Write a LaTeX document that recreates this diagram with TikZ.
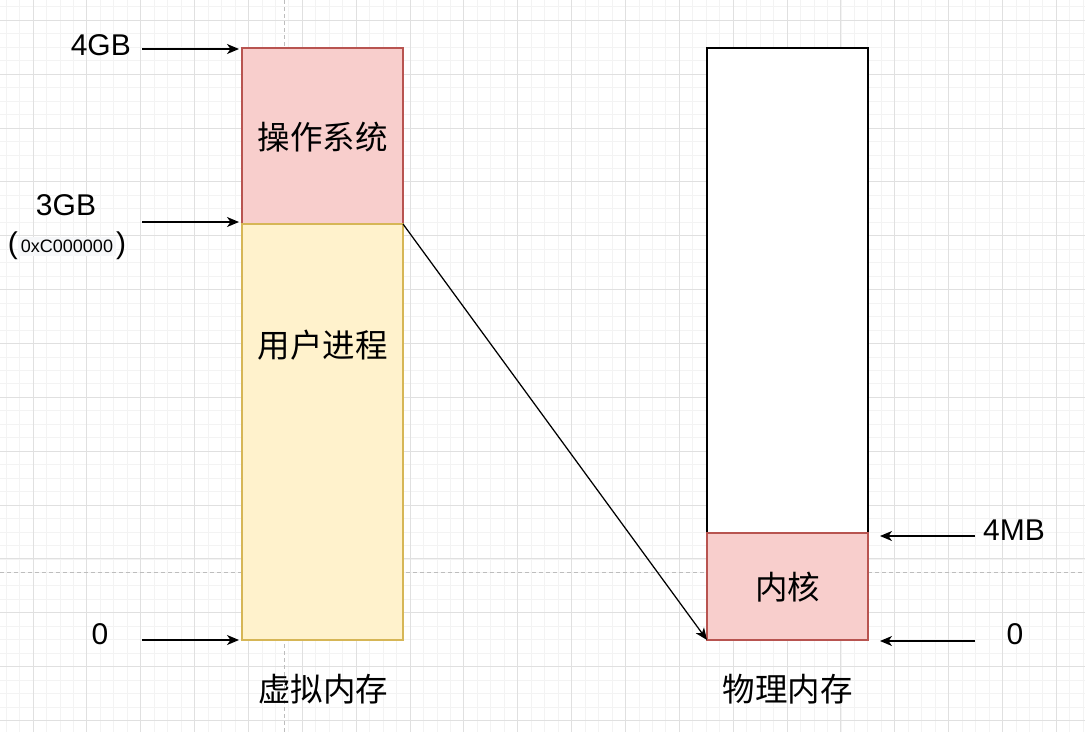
\documentclass[tikz,border=0pt]{standalone}
\usepackage{fontspec}
\setmainfont{Liberation Sans}
\newfontfamily\cjk{Noto Sans CJK SC}
\usetikzlibrary{arrows.meta}
\definecolor{osfill}{HTML}{F8CECC}
\definecolor{osline}{HTML}{B85450}
\definecolor{usfill}{HTML}{FFF2CC}
\definecolor{usline}{HTML}{D6B656}
\definecolor{gmin}{HTML}{F3F3F3}
\definecolor{gmaj}{HTML}{E0E0E0}
\definecolor{guide}{HTML}{BDBDBD}
\definecolor{codebg}{HTML}{F6F7F9}
\tikzset{
  minorgrid/.style={draw=gmin, line width=0.8pt},
  majorgrid/.style={draw=gmaj, line width=0.9pt},
  guideline/.style={draw=guide, line width=0.9pt, dash pattern=on 4pt off 3pt},
  membox/.style={rectangle, line width=1.2pt, minimum width=161pt, inner sep=0pt, outer sep=0pt},
  osbox/.style={membox, fill=osfill, draw=osline},
  userbox/.style={membox, fill=usfill, draw=usline},
  physbox/.style={membox, fill=white, draw=black},
  lat/.style={font=\fontsize{30}{34}\selectfont, inner sep=0pt},
  cjklabel/.style={font=\cjk\fontsize{32.5}{38}\selectfont, inner sep=0pt},
  arr/.style={draw=black, line width=1.25pt, -{Stealth[length=12pt,width=10pt,inset=3.5pt]}}
}
\begin{document}
\begin{tikzpicture}[x=1pt,y=-1pt]
\useasboundingbox (0,0) rectangle (1085,732);
\fill[white] (0,0) rectangle (1085,732);
% grid
\foreach \i in {-2,...,78} {
  \draw[minorgrid] ({33+13.465*\i},0) -- ({33+13.465*\i},732);
}
\foreach \i in {-1,...,53} {
  \draw[minorgrid] (0,{20.3+13.465*\i}) -- (1085,{20.3+13.465*\i});
}
\foreach \i in {0,...,19} {
  \draw[majorgrid] ({33+53.86*\i},0) -- ({33+53.86*\i},732);
}
\foreach \i in {0,...,13} {
  \draw[majorgrid] (0,{20.3+53.86*\i}) -- (1085,{20.3+53.86*\i});
}
% guides
\draw[guideline] (284,0) -- (284,732);
\draw[guideline] (0,572) -- (1085,572);

% boxes
\node[osbox, minimum height=176pt] (os) at (322.5,136) {};
\node[userbox, minimum height=416pt] (user) at (322.5,432) {};
\node[physbox, minimum height=485pt] (phys) at (787.5,290.5) {};
\node[osbox, minimum height=107pt] (kern) at (787.5,586.5) {};

\node[cjklabel] (ostxt) at (322.5,137) {操作系统};
\node[cjklabel] (usertxt) at (322.5,345) {用户进程};
\node[cjklabel] (kerntxt) at (787.5,587) {内核};
\node[cjklabel] (vmem) at (323,689) {虚拟内存};
\node[cjklabel] (pmem) at (787.5,689) {物理内存};

% left labels
\node[lat, anchor=east] (l4gb) at (131,45) {4GB};
\node[lat] (l3gb) at (66,205) {3GB};
\node[inner sep=0pt] (lhex) at (67,246) {\fontsize{30}{34}\selectfont(\raisebox{1pt}{\colorbox{codebg}{\fontsize{18}{21}\selectfont 0xC000000}})};
\node[lat] (l0) at (100,634) {0};
% right labels
\node[lat, anchor=west] (r4mb) at (983,530) {4MB};
\node[lat] (r0) at (1015,634) {0};

% arrow endpoints
\coordinate (a1s) at (142,49);   \coordinate (a1e) at (239,49);
\coordinate (a2s) at (142,222);  \coordinate (a2e) at (239,222);
\coordinate (a3s) at (142,640);  \coordinate (a3e) at (239,640);
\coordinate (b1s) at (975,536);  \coordinate (b1e) at (880,536);
\coordinate (b2s) at (975,641);  \coordinate (b2e) at (880,641);

\draw[arr] (a1s) -- (a1e);
\draw[arr] (a2s) -- (a2e);
\draw[arr] (a3s) -- (a3e);
\draw[arr] (b1s) -- (b1e);
\draw[arr] (b2s) -- (b2e);

% mapping arrow
\draw[arr] (os.south east) -- (kern.south west);
\end{tikzpicture}
\end{document}
